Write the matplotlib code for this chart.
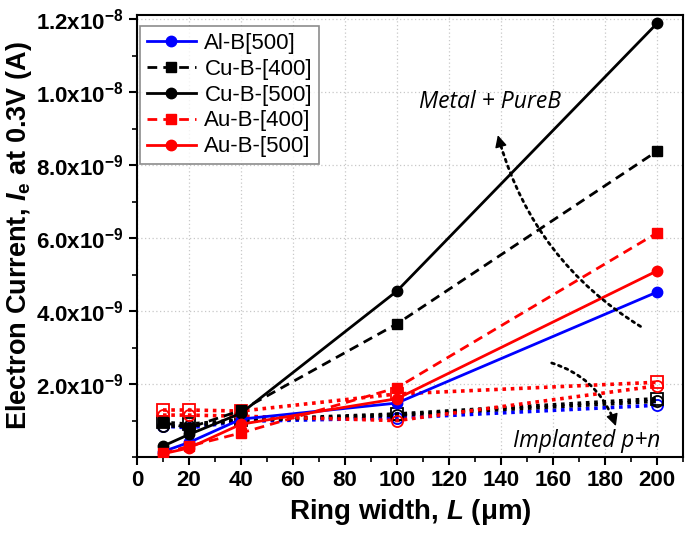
import matplotlib
matplotlib.use("Agg")
import math
import matplotlib.pyplot as plt
from matplotlib.patches import FancyArrowPatch
from matplotlib.ticker import MultipleLocator, FuncFormatter

plt.rcParams['font.family'] = ['Liberation Sans', 'DejaVu Sans']
plt.rcParams['mathtext.fontset'] = 'custom'
plt.rcParams['mathtext.rm'] = 'Liberation Sans:bold'
plt.rcParams['mathtext.bf'] = 'Liberation Sans:bold'
plt.rcParams['mathtext.it'] = 'Liberation Sans:italic:bold'

# Data
ring_width = [10, 20, 40, 100, 200]
al_b_500 = [0.15e-9, 0.40e-9, 1.04e-9, 1.48e-9, 4.52e-9]
cu_b_400 = [0.95e-9, 0.80e-9, 1.28e-9, 3.65e-9, 8.38e-9]
cu_b_500 = [0.30e-9, 0.62e-9, 1.20e-9, 4.55e-9, 11.88e-9]
au_b_400 = [0.10e-9, 0.30e-9, 0.66e-9, 1.90e-9, 6.14e-9]
au_b_500 = [0.09e-9, 0.25e-9, 0.90e-9, 1.60e-9, 5.10e-9]

# Implanted p+n references (dotted, open markers)
al_b_500_imp = [0.85e-9, 0.80e-9, 0.98e-9, 1.07e-9, 1.42e-9]
cu_b_400_imp = [0.95e-9, 0.90e-9, 1.02e-9, 1.18e-9, 1.60e-9]
cu_b_500_imp = [0.85e-9, 0.85e-9, 1.00e-9, 1.15e-9, 1.53e-9]
au_b_400_imp = [1.29e-9, 1.29e-9, 1.26e-9, 1.73e-9, 2.05e-9]
au_b_500_imp = [1.15e-9, 1.15e-9, 1.12e-9, 1.00e-9, 1.95e-9]

labels = ['Al-B[500]', 'Cu-B-[400]', 'Cu-B-[500]', 'Au-B-[400]', 'Au-B-[500]']
colors = ['#0000ff', 'black', 'black', '#ff0000', '#ff0000']
markers = ['o', 's', 'o', 's', 'o']
styles = ['-', '--', '-', '--', '-']

x_ticks = [0, 20, 40, 60, 80, 100, 120, 140, 160, 180, 200]
y_ticks = [2e-9, 4e-9, 6e-9, 8e-9, 1.0e-8, 1.2e-8]

fig = plt.figure(figsize=(6.85, 5.39), dpi=100)
ax = fig.add_axes([0.2, 0.152, 0.797, 0.820])

imp_series = [al_b_500_imp, cu_b_400_imp, cu_b_500_imp, au_b_400_imp, au_b_500_imp]
for ys, c, m in zip(imp_series, colors, markers):
    ax.plot(ring_width, ys, linestyle=(0, (1, 1.3)), color=c, lw=2.6,
            marker=m, ms=8, mfc='none', mec=c, mew=1.3, zorder=2)

main_series = [al_b_500, cu_b_400, cu_b_500, au_b_400, au_b_500]
for ys, c, m, s, lab in zip(main_series, colors, markers, styles, labels):
    kw = dict(dashes=(3.5, 2.2)) if s == '--' else {}
    ax.plot(ring_width, ys, linestyle=s, color=c, lw=2.0, marker=m, ms=7.5,
            label=lab, zorder=3, **kw)

ax.set_xlim(0, 210)
ax.set_ylim(0, 1.211e-8)
ax.set_xticks(x_ticks)
ax.set_yticks(y_ticks)
ax.xaxis.set_minor_locator(MultipleLocator(10))
ax.yaxis.set_minor_locator(MultipleLocator(1e-9))

def yfmt(v, pos):
    if v == 0:
        return ''
    e = int(math.floor(math.log10(abs(v)) + 1e-9))
    m = v / 10 ** e
    return f"{m:.1f}x10$^{{{e}}}$"

ax.yaxis.set_major_formatter(FuncFormatter(yfmt))
ax.tick_params(axis='both', which='major', direction='out', length=6, width=1.5,
               labelsize=16, top=False, right=False)
ax.tick_params(axis='both', which='minor', direction='out', length=3.5, width=1.2,
               top=False, right=False)
for lbl in ax.get_xticklabels() + ax.get_yticklabels():
    lbl.set_fontweight('bold')
for sp in ax.spines.values():
    sp.set_linewidth(1.5)

ax.grid(True, which='major', linestyle=(0, (1, 2)), color='#c8c8c8', lw=0.9)
ax.set_axisbelow(True)

ax.set_xlabel('Ring width, $\\mathit{L}$ (\u03bcm)', fontsize=20, fontweight='bold', labelpad=4)
ax.set_ylabel('Electron Current, $\\mathit{I}_{\\mathrm{e}}$ at 0.3V (A)', fontsize=19.5,
              fontweight='bold', labelpad=2)

leg = ax.legend(loc='upper left', bbox_to_anchor=(0.0055, 0.975), borderaxespad=0,
                fontsize=16, frameon=True, fancybox=False, edgecolor='#707070',
                handlelength=2.2, handletextpad=0.4, labelspacing=0.22,
                borderpad=0.3)
leg.get_frame().set_linewidth(1.2)

ax.text(135.8, 9.72e-9, 'Metal + PureB', fontsize=16.5, style='italic',
        family=['Open Sans', 'DejaVu Sans'], ha='center', va='center')
ax.text(173, 0.44e-9, 'Implanted p+n', fontsize=16.3, style='italic',
        family=['Open Sans', 'DejaVu Sans'], ha='center', va='center')

def curved_arrow(start, end, rad, shrink_head):
    body = FancyArrowPatch(start, end, connectionstyle=f'arc3,rad={rad}',
                           arrowstyle='-', linestyle=(0, (1, 1.6)),
                           lw=2.0, color='black', zorder=4, shrinkB=6)
    ax.add_patch(body)
    head = FancyArrowPatch(start, end, connectionstyle=f'arc3,rad={rad}',
                           arrowstyle='-|>', mutation_scale=18, linestyle='-',
                           lw=1.0, color='black', zorder=4, shrinkA=shrink_head,
                           shrinkB=0)
    ax.add_patch(head)

curved_arrow((194.6, 3.54e-9), (138.8, 8.82e-9), -0.2, 164)
curved_arrow((158.5, 2.6e-9), (184.2, 0.85e-9), -0.26, 58)

fig.savefig('out.png', dpi=100)
